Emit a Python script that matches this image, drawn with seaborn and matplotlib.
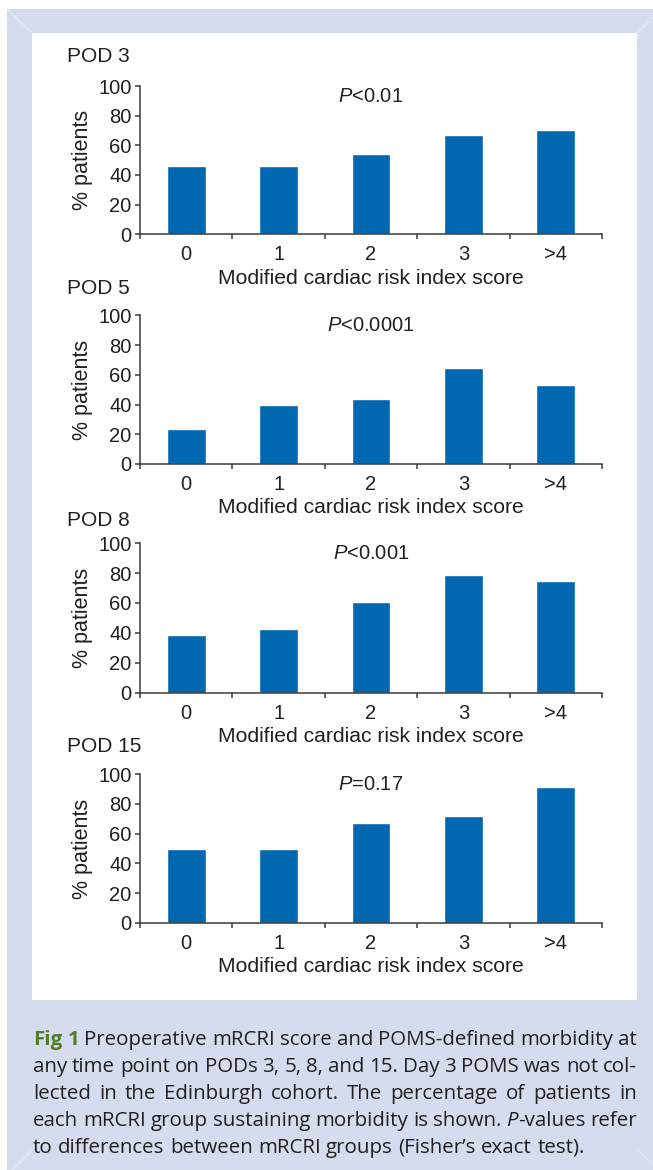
import re
import matplotlib
matplotlib.use('Agg')
import matplotlib.pyplot as plt
from matplotlib.patches import Rectangle
from matplotlib.lines import Line2D
import seaborn as sns

# --- data ---
categories = ['0', '1', '2', '3', '>4']
pod_labels = ['POD 3', 'POD 5', 'POD 8', 'POD 15']
p_labels = [r'$\mathit{P}$<0.01', r'$\mathit{P}$<0.0001',
            r'$\mathit{P}$<0.001', r'$\mathit{P}$=0.17']
pod3 = [46, 46, 54, 67, 70]
pod5 = [23.5, 40, 44, 64.5, 53]
pod8 = [38.5, 42.5, 60.5, 78.5, 74.5]
pod15 = [50, 50, 67, 72, 91.5]
pod_values = [pod3, pod5, pod8, pod15]

caption_lines = [
    "**Fig** **1** Preoperative mRCRI score and POMS-defined morbidity at",
    "any time point on PODs 3, 5, 8, and 15. Day 3 POMS was not col-",
    "lected in the Edinburgh cohort. The percentage of patients in",
    "each mRCRI group sustaining morbidity is shown. _P_-values refer",
    "to differences between mRCRI groups (Fisher’s exact test).",
]

# --- style ---
sns.set_style('ticks')
plt.rcParams['font.family'] = ['Liberation Sans', 'DejaVu Sans']
plt.rcParams['mathtext.fontset'] = 'custom'
plt.rcParams['mathtext.rm'] = 'Liberation Sans'
plt.rcParams['mathtext.it'] = 'Liberation Sans:italic'

bar_color = '#0067b1'
text_color = '#231f20'
axis_color = '#3a3a3a'
frame_blue = '#d4dcee'
bevel = '#e3e8f4'
green = '#4f7f2c'

W, H = 653, 1170
fig = plt.figure(figsize=(W / 100, H / 100), dpi=100)


def fx(px):
    return px / W


def fy(py):
    return 1 - py / H


# frame: blue border + white panel (kept below the axes)
fig.patches.append(Rectangle((fx(7), 0), fx(W) - fx(7), fy(9), transform=fig.transFigure,
                             facecolor=frame_blue, edgecolor='none', zorder=-3))
fig.patches.append(Rectangle((fx(32), fy(1000)), fx(637) - fx(32), fy(33) - fy(1000),
                             transform=fig.transFigure, facecolor='white', edgecolor='none', zorder=-2))
for (x0, y0, x1, y1) in [(7, 9, 32, 33), (653, 17, 637, 33), (12, 1170, 32, 1150), (653, 1165, 638, 1150)]:
    fig.lines.append(Line2D([fx(x0), fx(x1)], [fy(y0), fy(y1)], transform=fig.transFigure,
                            color=bevel, lw=0.8, zorder=-1))

# --- four bar panels ---
tops = [86, 315.3, 543.3, 774.3]
bottoms = [234.3, 464, 692.5, 922.7]
pod_y = [57, 288, 521, 746]

for i in range(4):
    ax = fig.add_axes([fx(140), fy(bottoms[i]), (602 - 140) / W, (bottoms[i] - tops[i]) / H])
    ax.set_facecolor('none')
    sns.barplot(x=categories, y=pod_values[i], order=categories, color=bar_color,
                saturation=1, width=0.42, ax=ax)
    ax.set_xlim(-0.5, 4.5)
    ax.set_ylim(0, 100)
    ax.set_yticks(range(0, 101, 20))
    ax.set_xticks([k - 0.5 for k in range(6)])
    ax.set_xticklabels([])
    ax.set_xticks(range(5), minor=True)
    ax.set_xticklabels(categories, minor=True)
    ax.tick_params(axis='x', which='minor', length=0, pad=8, labelsize=14.5, labelcolor=text_color)
    ax.tick_params(axis='both', which='major', length=3.6, width=1.1, color=axis_color,
                   labelsize=14.5, labelcolor=text_color, pad=2.5)
    sns.despine(ax=ax)
    for s in ['left', 'bottom']:
        ax.spines[s].set_color(axis_color)
        ax.spines[s].set_linewidth(1.1)
    ax.set_ylabel('% patients', fontsize=15.5, color=text_color, labelpad=4)
    ax.set_xlabel('Modified cardiac risk index score', fontsize=15.2, color=text_color, labelpad=3)
    ax.text(2, 93, p_labels[i], ha='center', va='center', fontsize=14.5, color=text_color)
    fig.text(fx(67), fy(pod_y[i]), pod_labels[i], ha='left', va='center', fontsize=15, color=text_color)

# --- caption, justified like the journal page ---
renderer = fig.canvas.get_renderer()
cap_font = 'Open Sans'


def seg_props(style, size):
    d = dict(fontsize=size, family=cap_font, color=text_color)
    if style == 'b':
        d.update(weight='bold', color=green)
    elif style == 'i':
        d.update(style='italic')
    return d


def parse_word(word):
    segs = []
    for part in re.split(r'(\*\*.+?\*\*|_.+?_)', word):
        if not part:
            continue
        if part.startswith('**'):
            segs.append((part[2:-2], 'b'))
        elif part.startswith('_'):
            segs.append((part[1:-1], 'i'))
        else:
            segs.append((part, 'n'))
    return segs


def text_width(s, props):
    t = fig.text(0, 0, s, **props)
    w = t.get_window_extent(renderer).width
    t.remove()
    return w


def word_width(segs, size):
    return sum(text_width(s, seg_props(st, size)) for s, st in segs)


# fit the font size to the last (unjustified) line width
ref = 12
last_words = [parse_word(w) for w in caption_lines[-1].split(' ')]
sp_ref = text_width('a a', seg_props('n', ref)) - text_width('aa', seg_props('n', ref))
nat = sum(word_width(w, ref) for w in last_words) + sp_ref * (len(last_words) - 1)
cap_size = ref * (548 / nat)
space_w = text_width('a a', seg_props('n', cap_size)) - text_width('aa', seg_props('n', cap_size))

left_px, right_px = 33, 637
baselines = [1045, 1072, 1099, 1126, 1153]
for li, line in enumerate(caption_lines):
    words = [parse_word(w) for w in line.split(' ')]
    widths = [word_width(w, cap_size) for w in words]
    if li < len(caption_lines) - 1:
        gap = (right_px - left_px - sum(widths)) / (len(words) - 1)
    else:
        gap = space_w
    x = left_px
    for w, ww in zip(words, widths):
        xx = x
        for s, st in w:
            props = seg_props(st, cap_size)
            fig.text(fx(xx), fy(baselines[li]), s, ha='left', va='baseline', **props)
            xx += text_width(s, props)
        x += ww + gap

fig.savefig('out.png', dpi=100)
